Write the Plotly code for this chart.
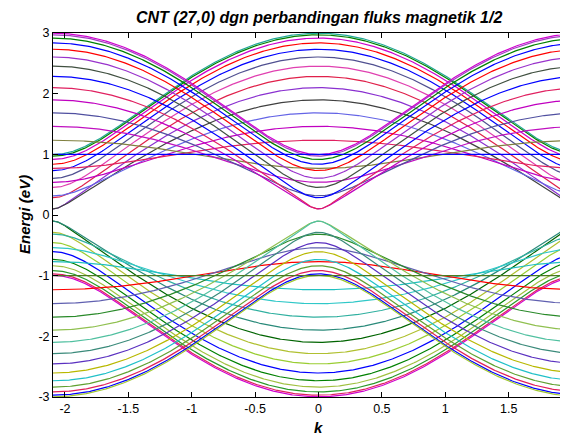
import numpy as np
import plotly.graph_objects as go

# ---- model parameters: zigzag CNT (27,0), flux ratio 1/2 ----
N_TUBE = 27            # chiral index n of the (n,0) tube
FLUX_RATIO = 0.5       # magnetic flux / flux quantum
HOPPING_T = 1.0        # eV (band top reaches 3 eV = 3t)
K_MIN = -2 * np.pi / 3
K_MAX = 2 * np.pi / 3
K_COUNT = 401
SUBBANDS = list(range(N_TUBE))   # distinct subbands (each doubly degenerate)

X_TICKS = [-2, -1.5, -1, -0.5, 0, 0.5, 1, 1.5, 2]
X_TICK_TEXT = ["-2", "-1.5", "-1", "-0.5", "0", "0.5", "1", "1.5", "2"]
Y_TICKS = [-3, -2, -1, 0, 1, 2, 3]
Y_TICK_TEXT = ["-3", "-2", "-1", "0", "1", "2", "3"]

TITLE = "CNT (27,0) dgn perbandingan fluks magnetik 1/2"
X_LABEL = "k"
Y_LABEL = "Energi (eV)"

COND_COLORS = ["#20a898", "#008000", "#cc00cc", "#ff0000", "#0000ff", "#505090",
               "#e040b0", "#e0204a", "#8a30d0", "#404040", "#6464e6", "#c000c0",
               "#e02060", "#0000ff", "#808040", "#c010c0", "#5050a0", "#c000c0",
               "#e02060", "#0000ff", "#405040", "#9933cc", "#ff0000", "#0000ff",
               "#008000", "#a040c0", "#d000d0"]
VAL_COLORS = ["#d000d0", "#e02060", "#2a9a2a", "#a0c040", "#008000", "#0000ff",
              "#9acd32", "#b0c030", "#006400", "#2a8a7a", "#30b0a0", "#30c8c8",
              "#20c0c0", "#4a7a20", "#ff0000", "#6060b0", "#2a8a2a", "#90c050",
              "#50c0a0", "#3a8a7a", "#5a30c0", "#b8b800", "#20c0c8", "#60a030",
              "#e0205a", "#0000ff", "#a0c830"]

# the flat (c = 0) subband is drawn last so it stays visible, as in the reference
FLAT = N_TUBE // 2
ORDER = [m for m in SUBBANDS if m != FLAT] + [FLAT]

k = np.linspace(K_MIN, K_MAX, K_COUNT)


def band(m):
    c = np.cos((m + FLUX_RATIO) * np.pi / N_TUBE)
    return HOPPING_T * np.sqrt(np.abs(1 + 4 * np.cos(1.5 * k) * c + 4 * c * c))


fig = go.Figure()
for sign, colors in ((1, COND_COLORS), (-1, VAL_COLORS)):
    for m in ORDER:
        fig.add_trace(go.Scatter(x=k, y=sign * band(m), mode="lines",
                                 line=dict(color=colors[m], width=1.2),
                                 showlegend=False, hoverinfo="skip"))

# the page body adds an 8px margin, so the figure is 8px smaller than the window
OFF = 8
W, H = 568 - OFF, 436 - OFF
ML, MT = 53 - OFF, 33 - OFF
PLOT_BOTTOM = 397 - OFF
MB = H - PLOT_BOTTOM
PH = H - MT - MB
PW = W - ML
full_plot_px = 531.0
x_right = K_MIN + PW / full_plot_px * (K_MAX - K_MIN)

font = dict(family="Liberation Sans, Arial, Helvetica, sans-serif", color="black")


def py(pixel_y):
    return (PLOT_BOTTOM - (pixel_y - OFF)) / PH


fig.update_layout(
    width=W, height=H, autosize=False,
    margin=dict(l=ML, r=0, t=MT, b=MB, pad=0),
    paper_bgcolor="white", plot_bgcolor="white",
    font=dict(**font, size=12.5),
    xaxis=dict(range=[K_MIN, x_right], tickvals=X_TICKS, ticktext=X_TICK_TEXT,
               showline=True, linecolor="black", linewidth=1, mirror="ticks",
               ticks="inside", ticklen=5, tickcolor="black", showgrid=False,
               zeroline=False, tickfont=dict(**font, size=12.5)),
    yaxis=dict(range=[-3, 3], tickvals=Y_TICKS, ticktext=Y_TICK_TEXT,
               showline=True, linecolor="black", linewidth=1, mirror=False,
               ticks="inside", ticklen=5, tickcolor="black", showgrid=False,
               zeroline=False, tickfont=dict(**font, size=12.5)),
    annotations=[
        dict(text="<b><i>" + TITLE + "</i></b>", x=0, xref="x", y=py(18),
             yref="paper", showarrow=False,
             xanchor="center", yanchor="middle", font=dict(**font, size=16)),
        dict(text="<b><i>" + X_LABEL + "</i></b>", x=0, xref="x", y=py(428),
             yref="paper", showarrow=False, xanchor="center", yanchor="middle",
             font=dict(**font, size=15)),
        dict(text="<b><i>" + Y_LABEL + "</i></b>", x=(24 - OFF - ML) / PW, xref="paper",
             y=0.5, yref="paper", showarrow=False, xanchor="center", yanchor="middle",
             textangle=-90, font=dict(**font, size=15)),
    ],
)

fig.write_html("out.html")
